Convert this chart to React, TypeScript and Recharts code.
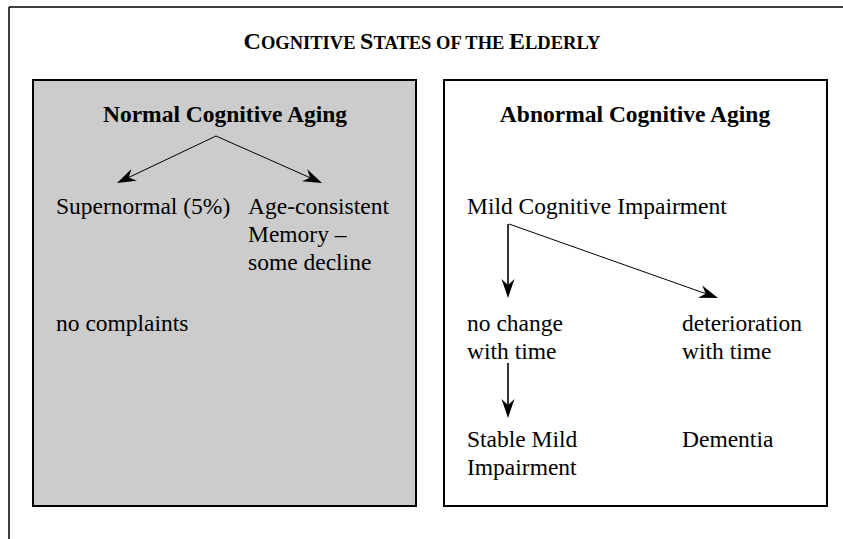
import React from 'react';
import { ComposedChart, XAxis, YAxis, ReferenceArea, ReferenceLine, Scatter } from 'recharts';

const WIDTH = 843;
const HEIGHT = 539;
const FONT = 'Liberation Serif, Times New Roman, serif';

// diagram coordinates are in the same units as the page (0..843 x 0..539, y down)
const panels = [
  { id: 'normal', x1: 33, x2: 416, y1: 80, y2: 506, fill: '#cccccc' },
  { id: 'abnormal', x1: 444, x2: 827, y1: 80, y2: 506, fill: '#ffffff' },
];

const frameEdges = [
  { id: 'top', x1: 9, y1: 7, x2: 843, y2: 7 },
  { id: 'left', x1: 9, y1: 7, x2: 9, y2: 539 },
];

const arrows = [
  { id: 'to-supernormal', x1: 216, y1: 136, x2: 117, y2: 183, width: 1 },
  { id: 'to-age-consistent', x1: 216, y1: 136, x2: 322, y2: 183, width: 1 },
  { id: 'to-no-change', x1: 508, y1: 224, x2: 508, y2: 298, width: 1.6 },
  { id: 'to-deterioration', x1: 509, y1: 224, x2: 718, y2: 298, width: 1 },
  { id: 'to-stable', x1: 508, y1: 363, x2: 508, y2: 418, width: 1.6 },
];

const titles = [{ x: 422, y: 49, text: 'Cognitive States of the Elderly' }];

const panelHeadings = [
  { x: 225, y: 122, text: 'Normal Cognitive Aging' },
  { x: 635, y: 122, text: 'Abnormal Cognitive Aging' },
];

const labels = [
  { x: 56, y: 214, text: 'Supernormal (5%)' },
  { x: 248, y: 214, text: 'Age-consistent' },
  { x: 248, y: 242, text: 'Memory –' },
  { x: 248, y: 270, text: 'some decline' },
  { x: 56, y: 331, text: 'no complaints' },
  { x: 467, y: 214, text: 'Mild Cognitive Impairment' },
  { x: 467, y: 331, text: 'no change' },
  { x: 467, y: 359, text: 'with time' },
  { x: 682, y: 331, text: 'deterioration' },
  { x: 682, y: 359, text: 'with time' },
  { x: 467, y: 447, text: 'Stable Mild' },
  { x: 467, y: 475, text: 'Impairment' },
  { x: 682, y: 447, text: 'Dementia' },
];

const ArrowShape = (props: any) => {
  const { x1, y1, x2, y2, strokeWidth } = props;
  const dx = x2 - x1;
  const dy = y2 - y1;
  const len = Math.sqrt(dx * dx + dy * dy) || 1;
  const ux = dx / len;
  const uy = dy / len;
  const head = 19;
  const half = 6.5;
  const notch = 13;
  const bx = x2 - ux * head;
  const by = y2 - uy * head;
  const nx = x2 - ux * notch;
  const ny = y2 - uy * notch;
  const pts = [
    [x2, y2],
    [bx - uy * half, by + ux * half],
    [nx, ny],
    [bx + uy * half, by - ux * half],
  ]
    .map((p) => p.join(','))
    .join(' ');
  return (
    <g>
      <line x1={x1} y1={y1} x2={nx} y2={ny} stroke="#000" strokeWidth={strokeWidth} />
      <polygon points={pts} fill="#000" />
    </g>
  );
};

// small caps: capital letters large, everything else uppercased at a smaller size
const TitleText = (props: any) => {
  const chars: string[] = props.payload.text.split('');
  const runs: { big: boolean; s: string }[] = [];
  chars.forEach((c) => {
    const big = c !== ' ' && c === c.toUpperCase();
    const last = runs[runs.length - 1];
    if (last && last.big === big) last.s += c;
    else runs.push({ big, s: c });
  });
  return (
    <text x={props.cx} y={props.cy} textAnchor="middle" fontFamily={FONT} fontWeight="bold" fill="#000">
      {runs.map((r, i) => (
        <tspan key={i} fontSize={r.big ? 24 : 18.5}>
          {r.s.toUpperCase()}
        </tspan>
      ))}
    </text>
  );
};

const HeadingText = (props: any) => (
  <text x={props.cx} y={props.cy} textAnchor="middle" fontFamily={FONT} fontWeight="bold" fontSize={23.5} fill="#000">
    {props.payload.text}
  </text>
);

const LabelText = (props: any) => (
  <text x={props.cx} y={props.cy} fontFamily={FONT} fontSize={23.5} fill="#000">
    {props.payload.text}
  </text>
);

export default function App() {
  return (
    <div style={{ position: 'absolute', left: 0, top: 0, width: WIDTH, height: HEIGHT, background: '#fff' }}>
      <ComposedChart width={WIDTH} height={HEIGHT} margin={{ top: 0, right: 0, bottom: 0, left: 0 }}>
        <XAxis type="number" dataKey="x" domain={[0, WIDTH]} hide allowDataOverflow />
        <YAxis type="number" dataKey="y" domain={[0, HEIGHT]} reversed hide allowDataOverflow />
        {panels.map((p) => (
          <ReferenceArea
            key={p.id}
            x1={p.x1}
            x2={p.x2}
            y1={p.y1}
            y2={p.y2}
            fill={p.fill}
            fillOpacity={1}
            stroke="#000"
            strokeWidth={2}
          />
        ))}
        {frameEdges.map((e) => (
          <ReferenceLine
            key={e.id}
            segment={[{ x: e.x1, y: e.y1 }, { x: e.x2, y: e.y2 }]}
            stroke="#000"
            strokeWidth={1.5}
          />
        ))}
        {arrows.map((a) => (
          <ReferenceLine
            key={a.id}
            segment={[{ x: a.x1, y: a.y1 }, { x: a.x2, y: a.y2 }]}
            stroke="#000"
            strokeWidth={a.width}
            shape={ArrowShape}
          />
        ))}
        <Scatter data={titles} shape={TitleText} isAnimationActive={false} />
        <Scatter data={panelHeadings} shape={HeadingText} isAnimationActive={false} />
        <Scatter data={labels} shape={LabelText} isAnimationActive={false} />
      </ComposedChart>
    </div>
  );
}
